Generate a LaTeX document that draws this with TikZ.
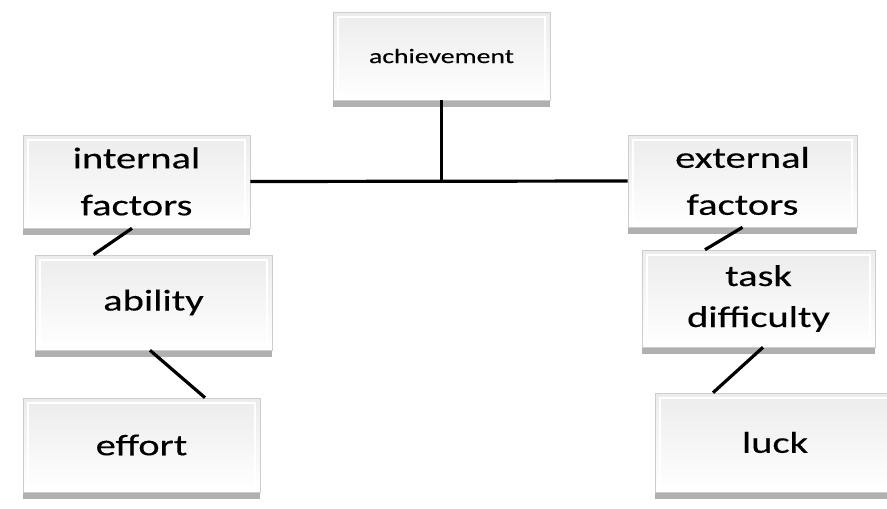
\documentclass[tikz,border=0pt]{standalone}
\usepackage{fontspec}
\setmainfont{Carlito}
\newfontfamily\tilefont[FakeStretch=1.35,FakeBold=0.3]{Carlito}
\usetikzlibrary{shadows,positioning,calc}
\definecolor{tileedge}{RGB}{205,205,205}
\definecolor{tiletop}{RGB}{236,236,236}
\definecolor{tileshadow}{RGB}{150,150,150}
\tikzset{y=-1pt}
\tikzset{x=1pt}
\tikzstyle{tile}=[rectangle, draw=tileedge, line width=.6pt, top color=tiletop, bottom color=white,
  align=center, inner sep=0pt,
  drop shadow={shadow xshift=0pt, shadow yshift=-7pt, fill=tileshadow, opacity=.75},
  path picture={\draw[white, line width=1.5pt] ([shift={(5pt,-5pt)}]path picture bounding box.north west)
    rectangle ([shift={(-5pt,5pt)}]path picture bounding box.south east);}]
\tikzset{big/.style={font=\tilefont\fontsize{30}{47}\selectfont}}
\tikzset{small/.style={font=\tilefont\fontsize{20.5}{23}\selectfont}}
\tikzstyle{link}=[line width=3.2pt, black]

\begin{document}
\begin{tikzpicture}
  \useasboundingbox (0,0) rectangle (887,509);
  \clip (0,0) rectangle (887,509);
  %% top
  \draw (441.5,56) node[tile,small,minimum width=217pt,minimum height=88pt] (ach) {achievement};
  %% left column
  \draw (136.5,181.5) node[tile,big,minimum width=227pt,minimum height=93pt] (int) {internal\\factors};
  \draw (153.5,302.5) node[tile,big,minimum width=237pt,minimum height=95pt] (abil) {ability};
  \draw (141.5,445) node[tile,big,minimum width=237pt,minimum height=94pt] (eff) {effort};
  %% right column
  \draw (742.5,181) node[tile,big,minimum width=229pt,minimum height=92pt] (ext) {external\\factors};
  \draw (758.5,298.5) node[tile,big,font=\tilefont\fontsize{30}{41}\selectfont,minimum width=233pt,minimum height=97pt] (task) {task\\difficulty};
  \draw (775,442.5) node[tile,big,minimum width=240pt,minimum height=99pt] (luck) {luck};

  %% connectors
  \draw[link] (ach.south) -- (ach.south |- int.east);
  \draw[link] (int.east) -- (ext.west);
  \draw[link] ([xshift=-4.5pt]int.south) -- ([xshift=-60pt]abil.north);
  \draw[link] ([xshift=-3.5pt]abil.south) -- ([xshift=63.5pt]eff.north);
  \draw[link] (ext.south) -- ([xshift=-53.5pt]task.north);
  \draw[link] ([xshift=4.5pt]task.south) -- ([xshift=-62pt]luck.north);
\end{tikzpicture}
\end{document}
